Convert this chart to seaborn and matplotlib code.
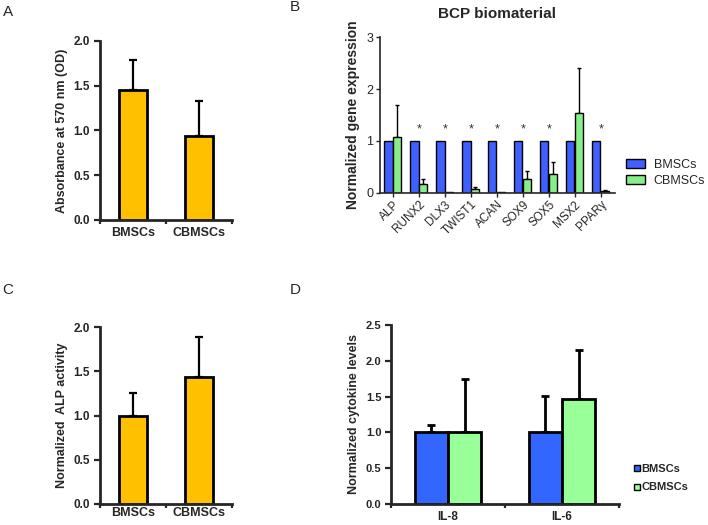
import numpy as np
import pandas as pd
import matplotlib
matplotlib.use('Agg')
import matplotlib.pyplot as plt
from matplotlib.lines import Line2D
from matplotlib.patches import Patch
import seaborn as sns

sns.set_theme(style='ticks')
plt.rcParams['font.family'] = ['Liberation Sans', 'DejaVu Sans']

# ---- data ----
cells = ['BMSCs', 'CBMSCs']

absorb = [1.45, 0.94]
absorb_err = [0.34, 0.39]

genes = ['ALP', 'RUNX2', 'DLX3', 'TWIST1', 'ACAN', 'SOX9', 'SOX5', 'MSX2', 'PPARγ']
gene_bm = [1, 1, 1, 1, 1, 1, 1, 1, 1]
gene_cb = [1.07, 0.17, 0.01, 0.07, 0.01, 0.27, 0.37, 1.53, 0.04]
gene_cb_err = [0.62, 0.09, 0.0, 0.04, 0.0, 0.15, 0.22, 0.88, 0.02]
signif = ['RUNX2', 'DLX3', 'TWIST1', 'ACAN', 'SOX9', 'SOX5', 'PPARγ']

alp = [1.0, 1.44]
alp_err = [0.26, 0.45]

cytokines = ['IL-8', 'IL-6']
cyto_bm = [1.0, 1.0]
cyto_bm_err = [0.10, 0.51]
cyto_cb = [1.0, 1.47]
cyto_cb_err = [0.75, 0.68]

YELLOW = '#FFC000'
BLUE_B, GREEN_B = '#3F5FFF', '#88EE88'
BLUE_D, GREEN_D = '#3366FF', '#99FF99'

fig = plt.figure(figsize=(7.08, 5.25), dpi=100)


def up_errors(ax, bars, errs, lw, cap):
    for bar, e in zip(bars, errs):
        if e <= 0:
            continue
        x = bar.get_x() + bar.get_width() / 2
        h = bar.get_height()
        ax.errorbar(x, h, yerr=[[0], [e]], fmt='none', ecolor='black',
                    elinewidth=lw, capsize=cap, capthick=lw, zorder=1)


def yellow_panel(rect, vals, errs, ylabel, xpad):
    ax = fig.add_axes(rect)
    sns.barplot(x=cells, y=vals, color=YELLOW, saturation=1, edgecolor='black',
                linewidth=2, width=0.41, errorbar=None, ax=ax, zorder=2)
    up_errors(ax, ax.patches, errs, 1.6, 3)
    ax.set_xlim(-0.5, 1.5)
    ax.set_ylim(0, 2)
    ax.set_yticks([0, 0.5, 1.0, 1.5, 2.0])
    ax.set_yticklabels(['0.0', '0.5', '1.0', '1.5', '2.0'], fontweight='bold', fontsize=8.5)
    ax.set_xticks([-0.5, 0.5, 1.5], minor=True)
    ax.tick_params(axis='x', which='major', length=0, pad=xpad)
    ax.tick_params(axis='x', which='minor', length=3, width=1.6)
    ax.tick_params(axis='y', length=4, width=1.6, pad=3)
    for lab in ax.get_xticklabels():
        lab.set_fontweight('bold')
        lab.set_fontsize(9)
    ax.set_ylabel(ylabel, fontweight='bold', fontsize=9)
    sns.despine(ax=ax)
    for s in ['left', 'bottom']:
        ax.spines[s].set_linewidth(2)
    return ax


# ---- A ----
yellow_panel([0.1412, 0.581, 0.1865, 0.341], absorb, absorb_err,
             'Absorbance at 570 nm (OD)', 5)

# ---- B ----
axb = fig.add_axes([0.5367, 0.6324, 0.3319, 0.2971])
dfb = pd.DataFrame({'gene': genes * 2,
                    'value': gene_bm + gene_cb,
                    'cell': ['BMSCs'] * len(genes) + ['CBMSCs'] * len(genes)})
sns.barplot(data=dfb, x='gene', y='value', hue='cell', palette=[BLUE_B, GREEN_B],
            saturation=1, width=0.68, gap=0.08, edgecolor='black', linewidth=1,
            errorbar=None, ax=axb, zorder=2, legend=False)
up_errors(axb, axb.containers[1], gene_cb_err, 1, 1.5)
axb.set_xlim(-0.5, 8.55)
axb.set_ylim(0, 3)
axb.set_yticks([0, 1, 2, 3])
axb.tick_params(axis='y', labelsize=9, length=3, width=1, pad=2)
axb.tick_params(axis='x', length=3, width=1, pad=1)
axb.set_xticks(range(len(genes)))
axb.set_xticklabels(genes, rotation=45, ha='right', rotation_mode='anchor', fontsize=8.5)
for i, g in enumerate(genes):
    if g in signif:
        axb.text(i, 1.22, '*', ha='center', va='center', fontsize=9, color='#333333')
axb.set_xlabel('')
axb.set_ylabel('Normalized gene expression', fontweight='bold', fontsize=10)
axb.set_title('BCP biomaterial', fontweight='bold', fontsize=11, pad=14)
sns.despine(ax=axb)
for s in ['left', 'bottom']:
    axb.spines[s].set_linewidth(1.2)
handles_b = [Patch(facecolor=BLUE_B, edgecolor='black', label='BMSCs'),
             Patch(facecolor=GREEN_B, edgecolor='black', label='CBMSCs')]
axb.legend(handles=handles_b, loc='center left', bbox_to_anchor=(1.01, 0.13),
           frameon=False, fontsize=9, handlelength=1.5, handleheight=0.7,
           handletextpad=0.7, labelspacing=0.35, borderaxespad=0.3)

# ---- C ----
yellow_panel([0.1412, 0.04, 0.1865, 0.337], alp, alp_err, 'Normalized  ALP activity', 2.5)

# ---- D ----
axd = fig.add_axes([0.5523, 0.04, 0.3220, 0.341])
dfd = pd.DataFrame({'cyto': cytokines * 2,
                    'value': cyto_bm + cyto_cb,
                    'cell': ['BMSCs'] * 2 + ['CBMSCs'] * 2})
sns.barplot(data=dfd, x='cyto', y='value', hue='cell', palette=[BLUE_D, GREEN_D],
            saturation=1, width=0.58, edgecolor='black', linewidth=2, errorbar=None,
            ax=axd, zorder=2, legend=False)
up_errors(axd, axd.containers[0], cyto_bm_err, 2, 3)
up_errors(axd, axd.containers[1], cyto_cb_err, 2, 3)
axd.set_xlim(-0.5, 1.5)
axd.set_ylim(0, 2.5)
axd.set_yticks([0, 0.5, 1.0, 1.5, 2.0, 2.5])
axd.set_yticklabels(['0.0', '0.5', '1.0', '1.5', '2.0', '2.5'], fontweight='bold', fontsize=8)
axd.set_xticks([-0.5, 0.5, 1.5], minor=True)
axd.tick_params(axis='x', which='major', length=0, pad=5)
axd.tick_params(axis='x', which='minor', length=3, width=1.6)
axd.tick_params(axis='y', length=4, width=1.6, pad=3)
for lab in axd.get_xticklabels():
    lab.set_fontweight('bold')
    lab.set_fontsize(8.5)
axd.set_xlabel('')
axd.set_ylabel('Normalized cytokine levels', fontweight='bold', fontsize=9)
sns.despine(ax=axd)
for s in ['left', 'bottom']:
    axd.spines[s].set_linewidth(2)
handles_d = [Line2D([], [], marker='s', ls='none', ms=5, mfc=BLUE_D, mec='black', mew=1, label='BMSCs'),
             Line2D([], [], marker='s', ls='none', ms=5, mfc=GREEN_D, mec='black', mew=1, label='CBMSCs')]
axd.legend(handles=handles_d, loc='center left', bbox_to_anchor=(1.02, 0.145),
           frameon=False, handlelength=0.6, handletextpad=0.1,
           labelspacing=0.8, prop={'weight': 'bold', 'size': 8})

# ---- panel letters ----
for x, y, s in [(8, 12, 'A'), (295, 7, 'B'), (8, 290, 'C'), (295, 290, 'D')]:
    fig.text(x / 708, 1 - y / 525, s, fontsize=11, ha='center', va='center')

fig.savefig('out.png', dpi=100)
